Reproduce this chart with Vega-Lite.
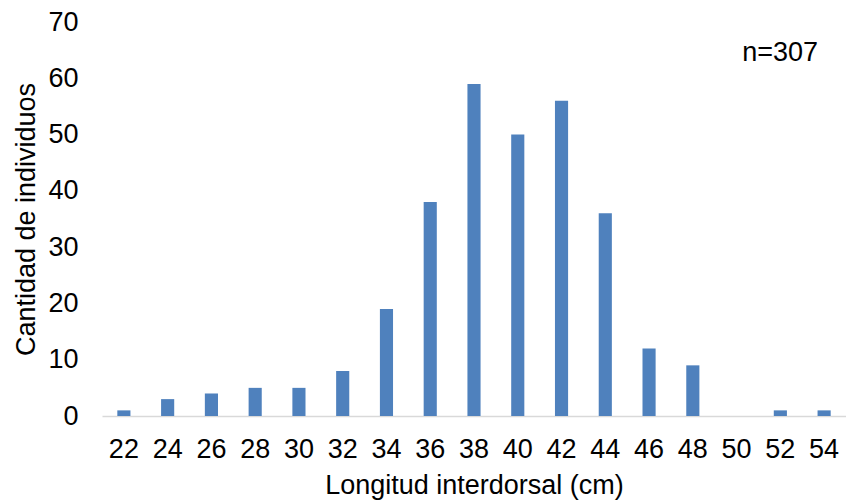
{
  "$schema": "https://vega.github.io/schema/vega-lite/v6.json",
  "autosize": "none",
  "padding": {"left": 102, "top": 22, "right": 0, "bottom": 88},
  "width": 744,
  "height": 394,
  "background": "white",
  "config": {
    "view": {"stroke": null},
    "font": "Liberation Sans",
    "axis": {"labelFont": "Liberation Sans", "titleFont": "Liberation Sans", "labelColor": "#000000", "titleColor": "#000000", "titleFontWeight": "normal", "grid": false}
  },
  "data": {
    "values": [
      {"len": "22", "n": 1},
      {"len": "24", "n": 3},
      {"len": "26", "n": 4},
      {"len": "28", "n": 5},
      {"len": "30", "n": 5},
      {"len": "32", "n": 8},
      {"len": "34", "n": 19},
      {"len": "36", "n": 38},
      {"len": "38", "n": 59},
      {"len": "40", "n": 50},
      {"len": "42", "n": 56},
      {"len": "44", "n": 36},
      {"len": "46", "n": 12},
      {"len": "48", "n": 9},
      {"len": "50", "n": 0},
      {"len": "52", "n": 1},
      {"len": "54", "n": 1}
    ]
  },
  "layer": [
    {
      "mark": {"type": "bar", "color": "#4F81BD"},
      "encoding": {
        "x": {
          "field": "len", "type": "ordinal", "sort": null,
          "scale": {"paddingInner": 0.7, "paddingOuter": 0.35},
          "axis": {
            "title": "Longitud interdorsal (cm)",
            "labelAngle": 0, "labelFontSize": 27, "titleFontSize": 27,
            "ticks": false, "labelPadding": 20, "titlePadding": 10,
            "domainColor": "#D9D9D9", "domainWidth": 1.5
          }
        },
        "y": {
          "field": "n", "type": "quantitative",
          "scale": {"domain": [0, 70], "nice": false},
          "axis": {
            "title": "Cantidad de individuos",
            "values": [0, 10, 20, 30, 40, 50, 60, 70],
            "labelFontSize": 27, "titleFontSize": 27,
            "ticks": false, "domain": false, "labelPadding": 24, "titlePadding": 7
          }
        }
      }
    },
    {
      "data": {"values": [{"len": "54", "n": 63, "label": "n=307"}]},
      "mark": {"type": "text", "align": "right", "baseline": "alphabetic", "fontSize": 27, "dx": -6, "color": "#000000"},
      "encoding": {
        "x": {"field": "len", "type": "ordinal"},
        "y": {"field": "n", "type": "quantitative"},
        "text": {"field": "label"}
      }
    }
  ]
}
